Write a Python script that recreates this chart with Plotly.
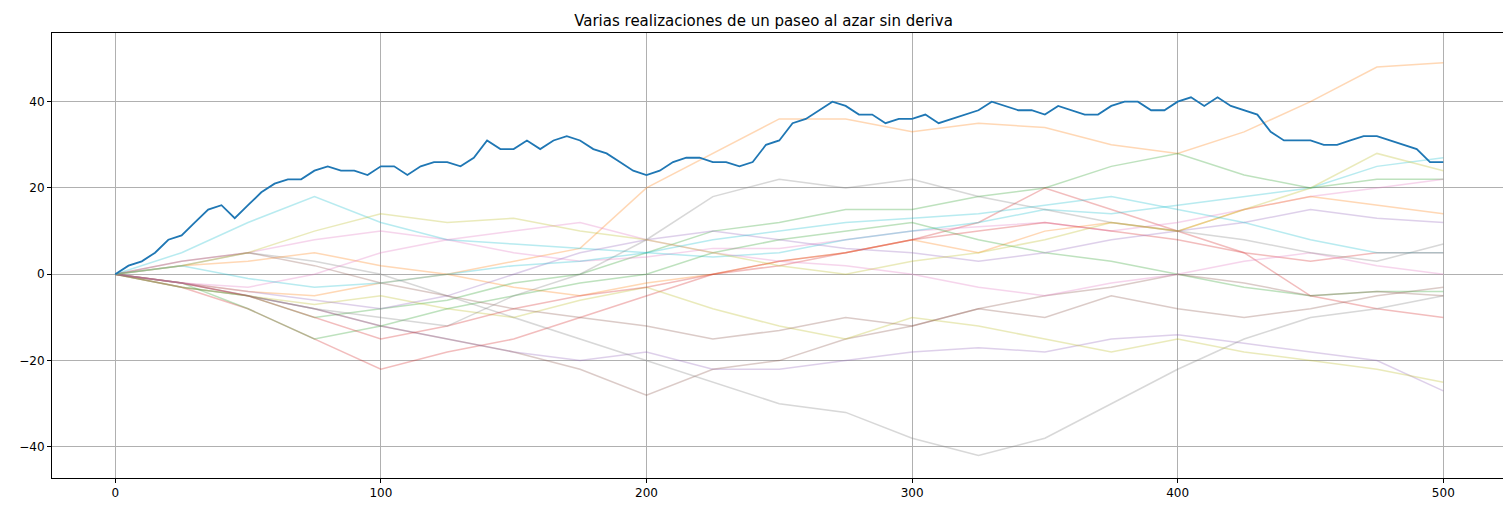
import plotly.graph_objects as go

# main walk, sampled every 5 steps
x_main = list(range(0, 501, 5))
y_main = [0, 2, 3, 5, 8, 9, 12, 15, 16, 13, 16, 19, 21, 22, 22, 24, 25, 24, 24, 23,
          25, 25, 23, 25, 26, 26, 25, 27, 31, 29, 29, 31, 29, 31, 32, 31, 29, 28, 26, 24,
          23, 24, 26, 27, 27, 26, 26, 25, 26, 30, 31, 35, 36, 38, 40, 39, 37, 37, 35, 36,
          36, 37, 35, 36, 37, 38, 40, 39, 38, 38, 37, 39, 38, 37, 37, 39, 40, 40, 38, 38,
          40, 41, 39, 41, 39, 38, 37, 33, 31, 31, 31, 30, 30, 31, 32, 32, 31, 30, 29, 26, 26]

# faded walks, sampled every 25 steps
x_faded = list(range(0, 501, 25))
faded = [
    [0, -2, -4, -5, -2, 0, 3, 6, 20, 28, 36, 36, 33, 35, 34, 30, 28, 33, 40, 48, 49],
    [0, -3, -5, -10, -8, -6, -2, 0, 5, 10, 12, 15, 15, 18, 20, 25, 28, 23, 20, 22, 22],
    [0, -3, -8, -15, -22, -18, -15, -10, -5, 0, 2, 5, 8, 12, 20, 15, 10, 5, -5, -8, -10],
    [0, -2, -5, -8, -12, -15, -18, -20, -18, -22, -22, -20, -18, -17, -18, -15, -14, -16, -18, -20, -27],
    [0, -2, -5, -8, -12, -15, -18, -22, -28, -22, -20, -15, -12, -8, -10, -5, -8, -10, -8, -5, -3],
    [0, 3, 5, 8, 10, 8, 5, 3, 4, 6, 6, 8, 10, 11, 12, 10, 12, 15, 18, 20, 22],
    [0, 2, 5, 3, 0, -5, -10, -15, -20, -25, -30, -32, -38, -42, -38, -30, -22, -15, -10, -8, -5],
    [0, -3, -5, -7, -5, -8, -10, -6, -3, -8, -12, -15, -10, -12, -15, -18, -15, -18, -20, -22, -25],
    [0, 5, 12, 18, 12, 8, 7, 6, 5, 4, 5, 8, 10, 12, 15, 14, 16, 18, 20, 25, 27],
    [0, 2, 3, 5, 2, 0, -3, -5, -2, 0, 3, 5, 8, 5, 10, 12, 10, 15, 18, 16, 14],
    [0, -2, -8, -15, -12, -8, -5, -2, 0, 5, 8, 10, 12, 8, 5, 3, 0, -3, -5, -4, -4],
    [0, -2, -5, -10, -15, -12, -8, -5, -3, 0, 3, 5, 8, 10, 12, 10, 8, 5, 3, 5, 5],
    [0, -2, -4, -6, -8, -5, 0, 5, 8, 10, 8, 6, 5, 3, 5, 8, 10, 12, 15, 13, 12],
    [0, 3, 5, 2, -2, -5, -8, -10, -12, -15, -13, -10, -12, -8, -5, -3, 0, -2, -5, -4, -5],
    [0, -2, -3, 0, 5, 8, 10, 12, 8, 5, 3, 2, 0, -3, -5, -2, 0, 3, 5, 2, 0],
    [0, -3, -5, -8, -10, -12, -5, 0, 8, 18, 22, 20, 22, 18, 15, 12, 10, 8, 5, 3, 7],
    [0, 2, 5, 10, 14, 12, 13, 10, 8, 5, 2, 0, 3, 5, 8, 12, 10, 15, 20, 28, 24],
    [0, 2, -1, -3, -2, 0, 2, 3, 5, 8, 10, 12, 13, 14, 16, 18, 15, 12, 8, 5, 5],
]

colors = ["#ff7f0e", "#2ca02c", "#d62728", "#9467bd", "#8c564b",
          "#e377c2", "#7f7f7f", "#bcbd22", "#17becf"]

fig = go.Figure()
for i, ys in enumerate(faded):
    fig.add_trace(go.Scatter(x=x_faded, y=ys, mode="lines", opacity=0.3,
                             line=dict(color=colors[i % len(colors)], width=1.5)))
fig.add_trace(go.Scatter(x=x_main, y=y_main, mode="lines",
                         line=dict(color="#1f77b4", width=1.8)))

axis = dict(showgrid=True, gridcolor="#b0b0b0", gridwidth=0.8, zeroline=False,
            showline=True, linecolor="black", linewidth=1, mirror=True,
            ticks="outside", ticklen=4, tickcolor="black", automargin=False)
fig.update_layout(
    width=1511, height=511,
    paper_bgcolor="white", plot_bgcolor="white",
    showlegend=False,
    margin=dict(l=44, r=13, t=25, b=41),
    font=dict(family="DejaVu Sans", size=12, color="black"),
    title=dict(text="Varias realizaciones de un paseo al azar sin deriva",
               x=0.5, xanchor="center", y=0.985, font=dict(size=15)),
    xaxis=dict(axis, range=[-23.8, 523.6], tickvals=[0, 100, 200, 300, 400, 500]),
    yaxis=dict(axis, range=[-47.2, 55.9], tickvals=[-40, -20, 0, 20, 40]),
)

fig.write_html("out.html")
